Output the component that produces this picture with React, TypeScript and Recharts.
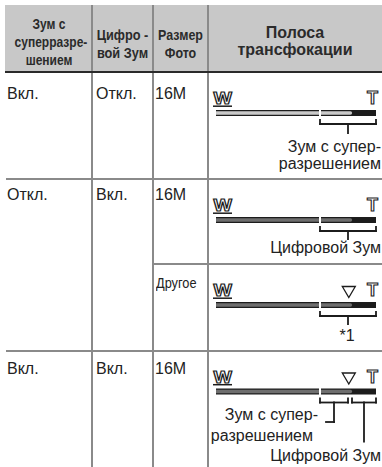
import React from "react";
import { ComposedChart, XAxis, YAxis, Line, Scatter, ReferenceLine } from "recharts";

// table texts
const headerLabels = [
  ["Зум с", "суперразре-", "шением"],
  ["Цифро -", "вой Зум"],
  ["Размер", "Фото"],
  ["Полоса", "трансфокации"],
];
const superResValues = ["Вкл.", "Откл.", "Вкл."];
const digitalZoomValues = ["Откл.", "Вкл.", "Вкл."];
const imageSizeValues = ["16M", "16M", "Другое", "16M"];

// zoom bar, 0 = W end, 100 = T end
const opticalLimit = 65;
const pointerStart = 85;
const markerAt = [null, null, 83, 83];
const bracketSpans = [
  [[65, 100]],
  [[65, 100]],
  [[65, 100]],
  [[65, 82.5], [85, 100]],
];
const bracketTexts = [
  [["Зум с супер-", "разрешением"]],
  [["Цифровой Зум"]],
  [["*1"]],
  [["Зум с супер-", "разрешением"], ["Цифровой Зум"]],
];

const SANS = '"Liberation Sans", Arial, sans-serif';
const INK = "#1c1c1c";
const RULE = "#8a8a8a";

// layout of the four bar rows (page px)
const barRows = [
  { top: 72, h: 107, barY: 41, fill: "#c9c9c9", stems: [9], hook: 0,
    labels: [[{ top: 139, right: 381 }, { top: 155.5, right: 381 }]] },
  { top: 179, h: 85, barY: 41, fill: "#6e6e6e", stems: [8], hook: 0,
    labels: [[{ top: 239.5, right: 381 }]] },
  { top: 264, h: 87, barY: 41, fill: "#6e6e6e", stems: [8], hook: 0,
    labels: [[{ top: 327.5, right: 29 }]] },
  { top: 351, h: 116, barY: 40.5, fill: "#6e6e6e", stems: [19.5, 39], hook: 5,
    labels: [
      [{ top: 406.5, right: 318 }, { top: 427.5, right: 313 }],
      [{ top: 447.5, right: 381 }],
    ] },
];

const Triangle = (props: any) => {
  const { cx, cy } = props;
  return (
    <polygon
      points={`${cx - 6.5},${cy - 5.5} ${cx + 6.5},${cy - 5.5} ${cx},${cy + 5.5}`}
      fill="#fff"
      stroke={INK}
      strokeWidth={1.3}
    />
  );
};

const ZoomBar = ({ i }: { i: number }) => {
  const { top, h, barY, fill, stems, hook } = barRows[i];
  const by = barY + 11;
  const outline = [{ x: 0, y: barY }, { x: 100, y: barY }];
  const filled = [{ x: 0, y: barY }, { x: pointerStart - 1, y: barY }];
  const marker = markerAt[i] == null ? [] : [{ x: markerAt[i], y: barY - 13 }];

  const marks: React.ReactElement[] = [];
  bracketSpans[i].forEach(([a, b], k) => {
    const mid = (a + b) / 2;
    const seg = (x1: number, y1: number, x2: number, y2: number, key: string) => (
      <ReferenceLine
        key={`${k}-${key}`}
        segment={[{ x: x1, y: y1 }, { x: x2, y: y2 }]}
        stroke={INK}
        strokeWidth={1.8}
        strokeLinecap="square"
      />
    );
    marks.push(seg(a, by, b, by, "h"));
    marks.push(seg(a, by - 4, a, by, "l"));
    marks.push(seg(b, by - 4, b, by, "r"));
    marks.push(seg(mid, by, mid, by + stems[k], "s"));
    if (k === 0 && hook > 0) marks.push(seg(mid, by + stems[k], mid - hook, by + stems[k], "k"));
  });

  return (
    <ComposedChart
      width={174}
      height={h}
      margin={{ top: 0, right: 6, bottom: 0, left: 8 }}
      style={{ position: "absolute", left: 208, top }}
    >
      <XAxis type="number" dataKey="x" domain={[0, 100]} hide allowDataOverflow />
      <YAxis type="number" dataKey="y" domain={[0, h]} reversed hide allowDataOverflow />
      <Line data={outline} dataKey="y" stroke={INK} strokeWidth={6} strokeLinecap="round" dot={false} isAnimationActive={false} />
      <Line data={filled} dataKey="y" stroke={fill} strokeWidth={3.4} strokeLinecap="round" dot={false} isAnimationActive={false} />
      <ReferenceLine
        segment={[{ x: opticalLimit, y: barY - 4 }, { x: opticalLimit, y: barY + 4 }]}
        stroke="#fff"
        strokeWidth={2}
      />
      {marks}
      {marker.length > 0 && <Scatter data={marker} shape={Triangle} isAnimationActive={false} />}
    </ComposedChart>
  );
};

// outlined W / T end marks of the zoom bar
const EndMarks = ({ top, barY }: { top: number; barY: number }) => (
  <svg width={174} height={barY} style={{ position: "absolute", left: 208, top }}>
    <text
      transform={`translate(5.5 ${barY - 9}) scale(1.22 1)`}
      fontFamily={SANS} fontWeight="bold" fontSize={16}
      fill="#fff" stroke={INK} strokeWidth={1.1}
    >
      W
    </text>
    <line x1={5} y1={barY - 6.8} x2={24} y2={barY - 6.8} stroke={INK} strokeWidth={1.5} />
    <text
      x={159} y={barY - 9}
      fontFamily={SANS} fontWeight="bold" fontSize={18}
      fill="#fff" stroke={INK} strokeWidth={1.1}
    >
      T
    </text>
  </svg>
);

const txt = (s: string, left: number, top: number, extra: React.CSSProperties = {}) => (
  <div
    key={`${s}-${left}-${top}`}
    style={{ position: "absolute", left, top, fontFamily: SANS, fontSize: 16, lineHeight: "18px", color: "#222", whiteSpace: "nowrap", ...extra }}
  >
    {s}
  </div>
);

const App = () => {
  const rowTops = [84.5, 186, 360];
  const sizeTops = [84.5, 186, 274, 360];
  const headerCols = [
    { left: 6, width: 86, top: 15, size: 15, lh: 18, sx: 0.8 },
    { left: 92, width: 61, top: 26, size: 15, lh: 18, sx: 0.85 },
    { left: 153, width: 55, top: 26, size: 15, lh: 18, sx: 0.83 },
    { left: 208, width: 174, top: 23.5, size: 16, lh: 17, sx: 1 },
  ];

  return (
    <div style={{ position: "absolute", left: 0, top: 0, width: 382, height: 467, background: "#fff", overflow: "hidden" }}>
      {/* header */}
      <div style={{ position: "absolute", left: 5, top: 5, width: 377, height: 67, background: "#c8c8c8" }} />
      {headerLabels.map((lines, c) => {
        const hc = headerCols[c];
        return (
          <div
            key={c}
            style={{
              position: "absolute", left: hc.left, top: hc.top, width: hc.width, textAlign: "center",
              fontFamily: SANS, fontWeight: "bold", fontSize: hc.size, lineHeight: `${hc.lh}px`, color: "#2b2b2b",
            }}
          >
            {lines.map((l) => (
              <div key={l} style={{ whiteSpace: "nowrap", transform: `scaleX(${hc.sx})`, transformOrigin: "center" }}>{l}</div>
            ))}
          </div>
        );
      })}

      {/* rules */}
      {[92, 153, 208].map((x) => (
        <div key={x} style={{ position: "absolute", left: x - 0.8, top: 5, width: 1.6, height: 462, background: RULE }} />
      ))}
      <div style={{ position: "absolute", left: 5, top: 71, width: 377, height: 2, background: "#2a2a2a" }} />
      {[178.2, 350.2].map((y) => (
        <div key={y} style={{ position: "absolute", left: 6, top: y, width: 376, height: 1.6, background: RULE }} />
      ))}
      <div style={{ position: "absolute", left: 153, top: 263.2, width: 229, height: 1.6, background: RULE }} />

      {/* cells */}
      {superResValues.map((s, r) => txt(s, 7, rowTops[r]))}
      {digitalZoomValues.map((s, r) => txt(s, 96, rowTops[r]))}
      {imageSizeValues.map((s, r) =>
        s === "Другое"
          ? txt(s, 156, sizeTops[r], { fontSize: 14.5, transform: "scaleX(0.88)", transformOrigin: "left top" })
          : txt(s, 155, sizeTops[r])
      )}

      {/* zoom bars */}
      {barRows.map((row, i) => (
        <React.Fragment key={i}>
          <ZoomBar i={i} />
          <EndMarks top={row.top} barY={row.barY} />
          {bracketTexts[i].map((lines, k) =>
            lines.map((l, n) => {
              const pos = row.labels[k][n];
              if (l === "*1") return txt(l, 339, pos.top, { width: 16, textAlign: "center", lineHeight: "16px" });
              return (
                <div
                  key={`${i}-${k}-${n}`}
                  style={{ position: "absolute", right: 382 - pos.right, top: pos.top, fontFamily: SANS, fontSize: 16, lineHeight: "16px", color: "#222", whiteSpace: "nowrap" }}
                >
                  {l}
                </div>
              );
            })
          )}
        </React.Fragment>
      ))}
    </div>
  );
};

export default App;
